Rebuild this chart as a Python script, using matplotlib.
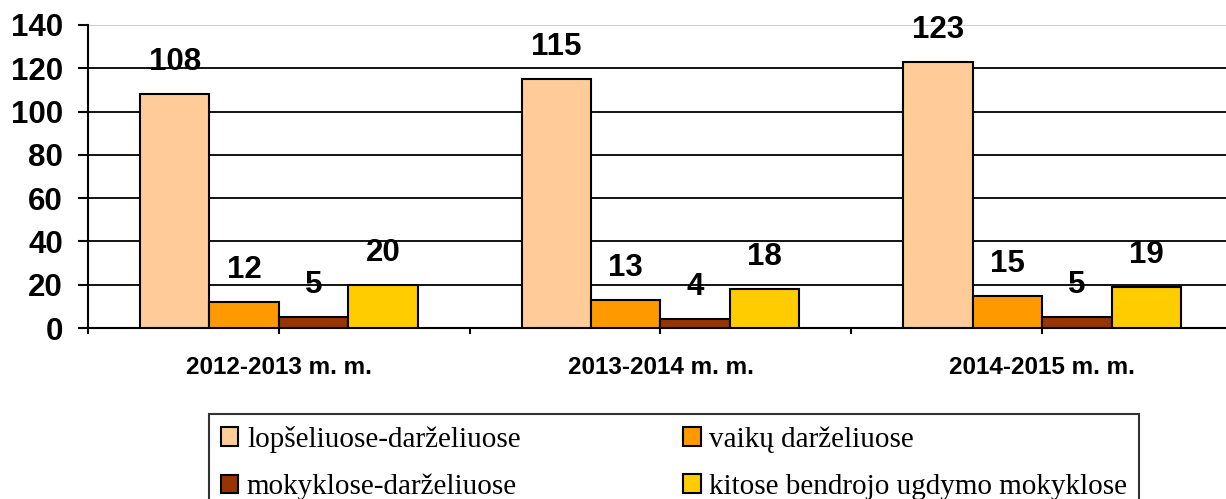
import matplotlib
matplotlib.use("Agg")
import matplotlib.pyplot as plt
import numpy as np

# Data
years = ["2012-2013 m. m.", "2013-2014 m. m.", "2014-2015 m. m."]
series_names = ["lopšeliuose-darželiuose", "vaikų darželiuose",
                "mokyklose-darželiuose", "kitose bendrojo ugdymo mokyklose"]
lopseliai = [108, 115, 123]
darzeliai = [12, 13, 15]
mokyklos_darzeliai = [5, 4, 5]
kitos_mokyklos = [20, 18, 19]

colors = ["#FFCC99", "#FF9900", "#993300", "#FFCC00"]

fig = plt.figure(figsize=(12.26, 4.99), dpi=100)
fig.patch.set_facecolor("white")
ax = fig.add_axes([88 / 1226, 1 - 328 / 499, 1 - 88 / 1226, (328 - 25) / 499])

x = np.arange(len(years))
w = 0.182
all_series = [lopseliai, darzeliai, mokyklos_darzeliai, kitos_mokyklos]
handles = []
for i, vals in enumerate(all_series):
    pos = x + (i - 1.5) * w
    b = ax.bar(pos, vals, w, color=colors[i], edgecolor="black", linewidth=1.5,
               label=series_names[i], zorder=3)
    handles.append(b)
    for px, v in zip(pos, vals):
        ax.annotate(str(v), (px, v), xytext=(0, 23), textcoords="offset points",
                    ha="center", va="center", fontsize=22.5, fontweight="bold",
                    family="Liberation Sans", zorder=4)

ax.set_xlim(-0.5, (1226 - 278) / 382)
ax.set_ylim(0, 140)
ax.set_yticks(np.arange(0, 141, 20))
ax.yaxis.grid(True, color="black", linewidth=1.3, zorder=0)
ax.set_axisbelow(True)
ax.get_ygridlines()[-1].set_color("#c8c8c8")
ax.get_ygridlines()[0].set_visible(False)

for s in ["top", "right"]:
    ax.spines[s].set_visible(False)
ax.spines["left"].set_linewidth(1.5)
ax.spines["bottom"].set_linewidth(1.5)

ax.tick_params(axis="y", length=7, width=1.5, pad=11, labelsize=22.5)
for t in ax.get_yticklabels():
    t.set_fontweight("bold")
    t.set_family("Liberation Sans")

ax.set_xticks(x)
ax.set_xticklabels(years, fontsize=17.5, fontweight="bold", family="Liberation Sans")
ax.tick_params(axis="x", which="major", length=4.5, width=1.5, pad=16)
ax.set_xticks(np.arange(-0.5, 2.5, 0.5), minor=True)
ax.tick_params(axis="x", which="minor", length=4.5, width=1.5)

# legend is filled column by column, so reorder to read row by row
order = [0, 2, 1, 3]
leg = fig.legend(handles=[handles[k] for k in order],
                 labels=[series_names[k] for k in order], ncol=2, mode="expand",
                 loc="upper left",
                 bbox_to_anchor=(209 / 1226, 1 - 414 / 499, (1139 - 209) / 1226, 0),
                 prop={"family": "Liberation Serif", "size": 21},
                 frameon=True, fancybox=False, edgecolor="black",
                 handlelength=0.6, handleheight=0.6, handletextpad=0.3,
                 labelspacing=0.73, borderpad=0.4, borderaxespad=0)
leg.get_frame().set_linewidth(1.5)

fig.savefig("out.png", dpi=100)
